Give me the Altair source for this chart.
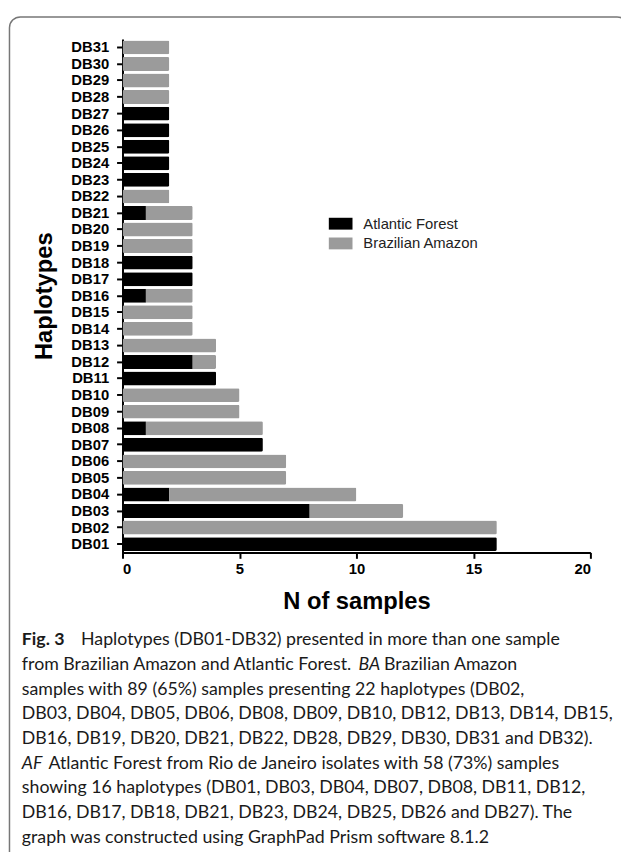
import altair as alt
import pandas as pd

haplotypes = ["DB01", "DB02", "DB03", "DB04", "DB05", "DB06", "DB07", "DB08", "DB09", "DB10",
              "DB11", "DB12", "DB13", "DB14", "DB15", "DB16", "DB17", "DB18", "DB19", "DB20",
              "DB21", "DB22", "DB23", "DB24", "DB25", "DB26", "DB27", "DB28", "DB29", "DB30", "DB31"]
atlantic_forest = [16, 0, 8, 2, 0, 0, 6, 1, 0, 0, 4, 3, 0, 0, 0, 1, 3, 3, 0, 0, 1, 0, 2, 2, 2, 2, 2, 0, 0, 0, 0]
brazilian_amazon = [0, 16, 4, 8, 7, 7, 0, 5, 5, 5, 0, 1, 4, 3, 3, 2, 0, 0, 3, 3, 2, 2, 0, 0, 0, 0, 0, 2, 2, 2, 2]
series = ["Atlantic Forest", "Brazilian Amazon"]
colors = ["#000000", "#9b9b9b"]
x_ticks = [0, 5, 10, 15, 20]

caption_lines = [
    "Haplotypes (DB01-DB32) presented in more than one sample",
    "from Brazilian Amazon and Atlantic Forest.",
    "samples with 89 (65%) samples presenting 22 haplotypes (DB02,",
    "DB03, DB04, DB05, DB06, DB08, DB09, DB10, DB12, DB13, DB14, DB15,",
    "DB16, DB19, DB20, DB21, DB22, DB28, DB29, DB30, DB31 and DB32).",
    "Atlantic Forest from Rio de Janeiro isolates with 58 (73%) samples",
    "showing 16 haplotypes (DB01, DB03, DB04, DB07, DB08, DB11, DB12,",
    "DB16, DB17, DB18, DB21, DB23, DB24, DB25, DB26 and DB27). The",
    "graph was constructed using GraphPad Prism software 8.1.2",
]

rows = []
for h, a, b in zip(haplotypes, atlantic_forest, brazilian_amazon):
    rows.append({"hap": h, "group": series[0], "n": a, "ord": 0})
    rows.append({"hap": h, "group": series[1], "n": b, "ord": 1})
df = pd.DataFrame(rows)

W, H = 474, 520
AX_FONT = "Liberation Sans"
CAP_FONT = "Lato"
CAP_SIZE = 18
CAP_COLOR = "#1a1a1a"

bars = alt.Chart(df).mark_bar(cornerRadius=1.5).encode(
    x=alt.X("n:Q", stack="zero",
            scale=alt.Scale(domain=[0, 20], nice=False, zero=True),
            axis=alt.Axis(values=x_ticks, title="N of samples", titleY=50,
                          titleBaseline="middle", labelPadding=3)),
    y=alt.Y("hap:N", sort=haplotypes[::-1],
            scale=alt.Scale(paddingInner=0.16, paddingOuter=0.08),
            axis=alt.Axis(title="Haplotypes", titleX=-79, titleY=H / 2,
                          titleBaseline="middle", titleAngle=270, labelPadding=8)),
    color=alt.Color("group:N", scale=alt.Scale(domain=series, range=colors),
                    legend=alt.Legend(title=None, orient="none", legendX=209, legendY=175,
                                      symbolType="M-1,-0.5H1V0.5H-1Z", symbolSize=576,
                                      symbolStrokeWidth=0, symbolOpacity=1,
                                      labelFont=AX_FONT, labelFontSize=15, labelColor="#222222",
                                      labelOffset=11, rowPadding=0, padding=0)),
    order=alt.Order("ord:Q"),
)

one = pd.DataFrame({"k": [0]})

border = alt.Chart(one).mark_rect(fill="transparent", stroke="#777777", strokeWidth=1.5,
                                  cornerRadius=11).encode(
    x=alt.value(-114.5), x2=alt.value(512), y=alt.value(-22.5), y2=alt.value(900))

def cap(text, x, line, weight="normal", style="normal"):
    return alt.Chart(one).mark_text(text=text, align="left", baseline="middle",
                                    font=CAP_FONT, fontSize=CAP_SIZE, color=CAP_COLOR,
                                    fontWeight=weight, fontStyle=style).encode(
        x=alt.value(x), y=alt.value(609 + 25 * line))

X0 = -102
caps = [
    cap("Fig. 3", X0, 0, weight="bold"),
    cap(caption_lines[0], -42, 0),
    cap(caption_lines[1], X0, 1),
    cap("BA", 239, 1, style="italic"),
    cap("Brazilian Amazon", 265, 1),
    cap(caption_lines[2], X0, 2),
    cap(caption_lines[3], X0, 3),
    cap(caption_lines[4], X0, 4),
    cap("AF", X0, 5, style="italic"),
    cap(caption_lines[5], -75, 5),
    cap(caption_lines[6], X0, 6),
    cap(caption_lines[7], X0, 7),
    cap(caption_lines[8], X0, 8),
]

chart = alt.layer(border, bars, *caps).properties(
    width=W, height=H,
    padding={"left": 116, "top": 26, "right": 31, "bottom": 298},
    autosize=alt.AutoSizeParams(type="none"),
).configure_view(stroke=None).configure_axis(
    grid=False, domainColor="black", domainWidth=2, tickColor="black", tickWidth=2,
    tickSize=6, labelFont=AX_FONT, labelFontWeight="bold", labelFontSize=15,
    labelColor="black", titleFont=AX_FONT, titleFontSize=24,
    titleFontWeight="bold", titleColor="black",
)

chart.save("out.html", embed_options={"renderer": "svg", "actions": False})
